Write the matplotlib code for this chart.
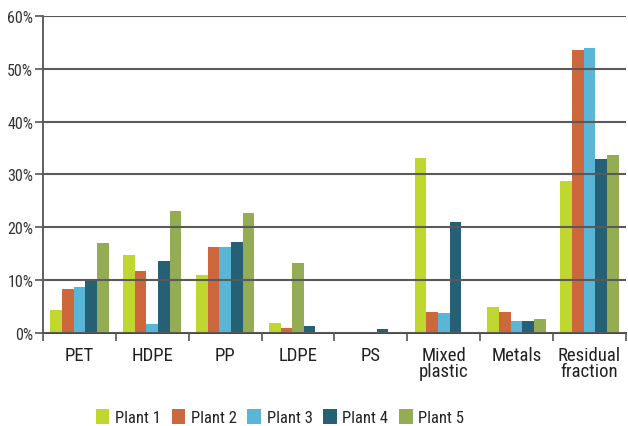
import numpy as np
import matplotlib
matplotlib.use("Agg")
import matplotlib.pyplot as plt
from matplotlib.patches import Patch
from matplotlib.ticker import FuncFormatter

plt.rcParams['font.family'] = ['Roboto Condensed', 'DejaVu Sans']

categories = ["PET", "HDPE", "PP", "LDPE", "PS", "Mixed\nplastic", "Metals", "Residual\nfraction"]
plants = ["Plant 1", "Plant 2", "Plant 3", "Plant 4", "Plant 5"]

# share of each fraction, in percent
plant1 = [4.4, 14.8, 11.0, 2.0, 0.0, 33.1, 5.0, 28.8]
plant2 = [8.4, 11.8, 16.4, 1.0, 0.0, 4.0, 4.0, 53.6]
plant3 = [8.8, 1.8, 16.4, 0.0, 0.0, 3.8, 2.3, 53.9]
plant4 = [9.8, 13.7, 17.3, 1.4, 0.8, 21.1, 2.3, 33.0]
plant5 = [17.1, 23.2, 22.8, 13.2, 0.0, 0.0, 2.7, 33.7]

colors = ["#bfd72f", "#cc683c", "#5ab6d6", "#256074", "#94ad55"]

# slot order of the bars inside a group (LDPE is drawn with plant 5 in the middle)
slot_order = {3: [0, 1, 4, 3, 2]}

series = [plant1, plant2, plant3, plant4, plant5]
n = len(plants)
width = 0.16

fig = plt.figure(figsize=(6.28, 4.27), dpi=100)
ax = fig.add_axes([0.0685, 0.217, 0.928, 0.744])

for ci in range(len(categories)):
    order = slot_order.get(ci, list(range(n)))
    for slot, pi in enumerate(order):
        x = ci + 0.5 + (slot - (n - 1) / 2) * width
        ax.bar(x, series[pi][ci], width=width, color=colors[pi], zorder=1)

ax.set_xlim(0, len(categories))
ax.set_ylim(0, 60)
ax.set_yticks(np.arange(0, 61, 10))
ax.yaxis.set_major_formatter(FuncFormatter(lambda v, p: f"{v:.0f}%"))
ax.grid(axis='y', color='#5a5a5a', linewidth=1.5, zorder=2)
ax.set_axisbelow(False)

ax.set_xticks(np.arange(0, len(categories) + 1))
ax.set_xticklabels([])
ax.set_xticks(np.arange(len(categories)) + 0.5, minor=True)
ax.set_xticklabels(categories, minor=True, fontsize=13.5, color='#222222',
                   linespacing=0.9)
ax.tick_params(axis='x', which='minor', length=0, pad=9)
ax.tick_params(axis='x', which='major', length=6, width=1.2, color='#555555')
ax.tick_params(axis='y', length=6, width=1.2, color='#555555', labelsize=11.5,
               labelcolor='#333333', pad=1)

for s in ['top', 'right']:
    ax.spines[s].set_visible(False)
ax.spines['left'].set_color('#444444')
ax.spines['left'].set_linewidth(1.2)
ax.spines['bottom'].set_color('#444444')
ax.spines['bottom'].set_linewidth(1.4)

handles = [Patch(facecolor=c, edgecolor='none') for c in colors]
fig.legend(handles, plants, loc='center', bbox_to_anchor=(0.446, 0.021),
           ncol=n, frameon=False, fontsize=12, handlelength=0.8,
           handleheight=1.05, handletextpad=0.35, columnspacing=0.65,
           labelcolor='#222222')

fig.savefig("out.png", dpi=100)
